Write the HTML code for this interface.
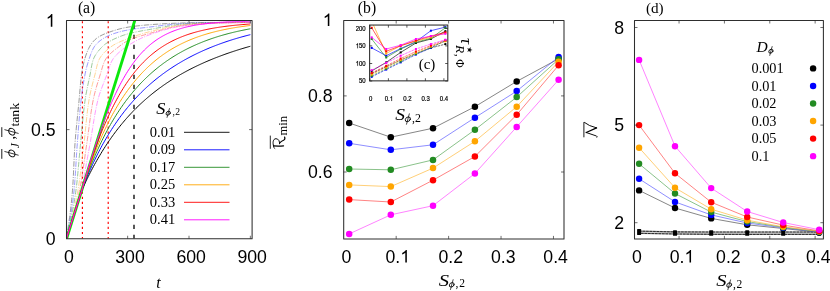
<!DOCTYPE html>
<html><head><meta charset="utf-8"><title>figure</title>
<style>
html,body{margin:0;padding:0;background:#fff;}
body{width:830px;height:291px;overflow:hidden;font-family:"Liberation Sans",sans-serif;}
svg{display:block;will-change:transform;}
text{fill:#000;}
</style></head><body>
<svg width="830" height="291" viewBox="0 0 830 291">
<rect width="830" height="291" fill="#fff"/>
<g id="pa">
<clipPath id="ca"><rect x="66.5" y="20.5" width="185.6" height="218.25"/></clipPath>
<g clip-path="url(#ca)">
<line x1="82.4" y1="20.5" x2="82.4" y2="238.75" stroke="#ff0000" stroke-width="1.15" stroke-dasharray="2.1 2.916" stroke-dashoffset="4.3"/>
<line x1="108.2" y1="20.5" x2="108.2" y2="238.75" stroke="#ff0000" stroke-width="1.15" stroke-dasharray="2.1 2.916" stroke-dashoffset="4.3"/>
<line x1="134" y1="20.5" x2="134" y2="238.75" stroke="#3a3a3a" stroke-width="1.7" stroke-dasharray="4.2 5.8" stroke-dashoffset="5.8"/>
<path d="M66.3 239 L66.59 237.21 L66.89 235.41 L67.17 233.62 L67.46 231.82 L67.74 230.02 L68.01 228.23 L68.28 226.43 L68.55 224.63 L68.81 222.83 L69.07 221.04 L69.32 219.24 L69.57 217.44 L69.81 215.64 L70.04 213.84 L70.27 212.04 L70.49 210.24 L70.71 208.43 L70.92 206.63 L71.12 204.83 L71.31 203.03 L71.5 201.22 L71.68 199.42 L71.86 197.62 L72.02 195.81 L72.18 194.01 L72.33 192.2 L72.47 190.39 L72.6 188.59 L72.73 186.78 L72.85 184.97 L72.96 183.16 L73.06 181.35 L73.16 179.54 L73.26 177.73 L73.35 175.92 L73.44 174.1 L73.52 172.29 L73.6 170.48 L73.69 168.66 L73.77 166.85 L73.85 165.03 L73.93 163.22 L74.01 161.41 L74.09 159.59 L74.18 157.78 L74.27 155.96 L74.36 154.15 L74.46 152.34 L74.56 150.53 L74.66 148.72 L74.77 146.9 L74.89 145.09 L75.02 143.29 L75.15 141.48 L75.29 139.67 L75.44 137.86 L75.59 136.05 L75.74 134.24 L75.9 132.44 L76.07 130.63 L76.24 128.82 L76.41 127.02 L76.58 125.21 L76.76 123.4 L76.94 121.6 L77.12 119.79 L77.3 117.99 L77.48 116.18 L77.67 114.37 L77.85 112.57 L78.04 110.76 L78.22 108.96 L78.4 107.15 L78.58 105.34 L78.76 103.54 L78.93 101.73 L79.11 99.93 L79.27 98.12 L79.43 96.31 L79.59 94.5 L79.74 92.69 L79.89 90.88 L80.04 89.06 L80.19 87.25 L80.35 85.44 L80.52 83.63 L80.69 81.83 L80.88 80.02 L81.07 78.22 L81.29 76.43 L81.51 74.63 L81.77 72.84 L82.05 71.05 L82.37 69.26 L82.72 67.47 L83.1 65.68 L83.5 63.91 L83.93 62.15 L84.39 60.4 L84.88 58.66 L85.4 56.91 L85.98 55.16 L86.6 53.41 L87.26 51.69 L87.98 50.01 L88.74 48.37 L89.55 46.79 L90.43 45.28 L91.45 43.77 L92.58 42.29 L93.82 40.87 L95.13 39.56 L96.48 38.4 L97.88 37.39 L99.38 36.45 L100.98 35.58 L102.65 34.78 L104.35 34.03 L106.07 33.33 L107.78 32.69 L109.47 32.08 L111.18 31.49 L112.9 30.92 L114.64 30.37 L116.39 29.84 L118.15 29.34 L119.91 28.87 L121.68 28.43 L123.46 28.03 L125.24 27.66 L127.02 27.33 L128.79 27.04 L130.58 26.77 L132.37 26.52 L134.17 26.28 L135.97 26.05 L137.77 25.84 L139.58 25.64 L141.39 25.45 L143.2 25.28 L145.02 25.11 L146.83 24.95 L148.64 24.81 L150.45 24.67 L152.26 24.53 L154.06 24.4 L155.87 24.28 L157.68 24.16 L159.5 24.04 L161.31 23.93 L163.12 23.82 L164.93 23.72 L166.74 23.62 L168.56 23.53 L170.37 23.44 L172.18 23.35 L174 23.28 L175.81 23.2 L177.62 23.13 L179.44 23.07 L181.25 23.01 L183.06 22.95 L184.88 22.89 L186.69 22.84 L188.51 22.79 L190.32 22.74 L192.13 22.7 L193.95 22.66 L195.76 22.63 L197.58 22.6 L199.39 22.58 L201.21 22.56 L203.02 22.54 L204.83 22.53 L206.65 22.51 L208.46 22.5 L210.28 22.48 L212.09 22.47 L213.91 22.46 L215.72 22.45 L217.54 22.43 L219.35 22.42 L221.17 22.41 L222.98 22.41 L224.8 22.4 L226.61 22.39 L228.42 22.38 L230.24 22.37 L232.05 22.36 L233.87 22.35 L235.68 22.35 L237.5 22.34 L239.31 22.33 L241.13 22.32 L242.94 22.32 L244.76 22.31 L246.57 22.31 L248.39 22.3 L250.2 22.3" fill="none" stroke="#555555" stroke-width="0.6" stroke-dasharray="5.5 1.3 1 1.3"/>
<path d="M66.3 239 L66.66 237.24 L67.02 235.48 L67.37 233.73 L67.72 231.97 L68.07 230.21 L68.41 228.44 L68.74 226.68 L69.07 224.92 L69.39 223.16 L69.71 221.39 L70.02 219.63 L70.32 217.86 L70.62 216.1 L70.91 214.33 L71.19 212.57 L71.47 210.8 L71.74 209.03 L72 207.26 L72.26 205.49 L72.5 203.72 L72.74 201.95 L72.97 200.18 L73.19 198.4 L73.4 196.63 L73.6 194.86 L73.79 193.08 L73.97 191.31 L74.14 189.53 L74.31 187.76 L74.46 185.98 L74.61 184.2 L74.75 182.42 L74.89 180.64 L75.02 178.85 L75.15 177.07 L75.27 175.29 L75.38 173.5 L75.5 171.71 L75.61 169.93 L75.72 168.14 L75.82 166.35 L75.93 164.57 L76.04 162.78 L76.14 160.99 L76.25 159.2 L76.36 157.42 L76.47 155.63 L76.58 153.84 L76.7 152.06 L76.82 150.27 L76.94 148.49 L77.07 146.7 L77.21 144.92 L77.34 143.13 L77.48 141.35 L77.61 139.56 L77.75 137.78 L77.88 136 L78.02 134.21 L78.16 132.43 L78.29 130.64 L78.43 128.86 L78.57 127.07 L78.72 125.29 L78.86 123.5 L79.01 121.72 L79.16 119.94 L79.31 118.15 L79.46 116.37 L79.62 114.59 L79.79 112.81 L79.95 111.03 L80.13 109.25 L80.3 107.47 L80.48 105.69 L80.67 103.91 L80.86 102.14 L81.06 100.36 L81.26 98.59 L81.48 96.81 L81.7 95.04 L81.93 93.26 L82.17 91.48 L82.42 89.71 L82.68 87.94 L82.95 86.16 L83.23 84.39 L83.52 82.63 L83.82 80.86 L84.13 79.1 L84.45 77.34 L84.79 75.59 L85.13 73.84 L85.5 72.09 L85.89 70.35 L86.32 68.6 L86.76 66.86 L87.24 65.13 L87.73 63.41 L88.25 61.7 L88.8 60.01 L89.36 58.3 L89.95 56.55 L90.56 54.79 L91.21 53.05 L91.91 51.34 L92.65 49.7 L93.46 48.14 L94.32 46.7 L95.27 45.37 L96.37 44.09 L97.62 42.83 L98.98 41.62 L100.45 40.46 L101.98 39.36 L103.56 38.34 L105.16 37.39 L106.76 36.54 L108.33 35.79 L109.91 35.1 L111.54 34.46 L113.2 33.84 L114.9 33.26 L116.62 32.72 L118.37 32.2 L120.13 31.72 L121.89 31.27 L123.66 30.86 L125.43 30.47 L127.19 30.12 L128.93 29.79 L130.68 29.49 L132.44 29.21 L134.21 28.95 L135.98 28.7 L137.76 28.46 L139.54 28.24 L141.32 28.02 L143.1 27.81 L144.88 27.6 L146.67 27.39 L148.45 27.19 L150.22 26.97 L152 26.76 L153.77 26.54 L155.55 26.32 L157.33 26.1 L159.1 25.88 L160.88 25.67 L162.66 25.46 L164.44 25.25 L166.21 25.05 L167.99 24.85 L169.77 24.67 L171.55 24.49 L173.33 24.32 L175.11 24.17 L176.89 24.02 L178.68 23.89 L180.46 23.77 L182.24 23.65 L184.03 23.54 L185.82 23.43 L187.6 23.33 L189.39 23.23 L191.18 23.14 L192.96 23.06 L194.75 22.99 L196.54 22.93 L198.33 22.89 L200.12 22.85 L201.9 22.81 L203.69 22.77 L205.48 22.74 L207.27 22.71 L209.06 22.68 L210.85 22.65 L212.64 22.63 L214.42 22.61 L216.21 22.58 L218 22.56 L219.79 22.54 L221.58 22.52 L223.37 22.51 L225.16 22.49 L226.95 22.47 L228.73 22.45 L230.52 22.44 L232.31 22.42 L234.1 22.4 L235.89 22.39 L237.68 22.37 L239.47 22.36 L241.26 22.35 L243.04 22.34 L244.83 22.33 L246.62 22.32 L248.41 22.31 L250.2 22.3" fill="none" stroke="#5555ff" stroke-width="0.6" stroke-dasharray="5.5 1.3 1 1.3"/>
<path d="M66.3 239 L66.73 237.29 L67.15 235.58 L67.57 233.87 L67.98 232.16 L68.39 230.44 L68.79 228.73 L69.19 227.01 L69.58 225.3 L69.97 223.58 L70.35 221.86 L70.72 220.14 L71.08 218.42 L71.44 216.7 L71.8 214.98 L72.14 213.26 L72.48 211.53 L72.81 209.81 L73.13 208.08 L73.45 206.36 L73.75 204.63 L74.05 202.9 L74.34 201.17 L74.62 199.44 L74.9 197.71 L75.16 195.98 L75.42 194.25 L75.66 192.52 L75.9 190.78 L76.12 189.05 L76.34 187.31 L76.55 185.57 L76.75 183.83 L76.94 182.09 L77.13 180.35 L77.31 178.6 L77.49 176.86 L77.66 175.11 L77.83 173.36 L77.99 171.61 L78.15 169.86 L78.31 168.11 L78.47 166.36 L78.62 164.61 L78.77 162.86 L78.92 161.11 L79.08 159.36 L79.23 157.6 L79.38 155.85 L79.54 154.1 L79.7 152.35 L79.86 150.6 L80.02 148.85 L80.19 147.1 L80.36 145.36 L80.54 143.61 L80.71 141.86 L80.88 140.11 L81.05 138.36 L81.21 136.61 L81.37 134.86 L81.54 133.11 L81.7 131.36 L81.86 129.61 L82.02 127.86 L82.19 126.11 L82.35 124.36 L82.52 122.61 L82.69 120.86 L82.86 119.12 L83.04 117.37 L83.22 115.62 L83.4 113.88 L83.59 112.13 L83.79 110.39 L83.99 108.65 L84.2 106.9 L84.41 105.16 L84.64 103.43 L84.87 101.69 L85.11 99.96 L85.36 98.22 L85.64 96.49 L85.93 94.77 L86.25 93.04 L86.58 91.32 L86.92 89.59 L87.27 87.87 L87.63 86.15 L87.99 84.43 L88.36 82.71 L88.73 80.99 L89.1 79.27 L89.46 77.55 L89.82 75.83 L90.18 74.11 L90.51 72.38 L90.82 70.62 L91.12 68.85 L91.43 67.09 L91.76 65.34 L92.12 63.62 L92.52 61.95 L92.99 60.33 L93.56 58.76 L94.27 57.2 L95.11 55.66 L96.06 54.15 L97.11 52.66 L98.22 51.21 L99.39 49.81 L100.59 48.47 L101.81 47.19 L103.03 45.97 L104.32 44.82 L105.74 43.74 L107.22 42.75 L108.71 41.87 L110.23 41.03 L111.78 40.22 L113.35 39.43 L114.95 38.67 L116.56 37.94 L118.2 37.24 L119.85 36.57 L121.5 35.94 L123.17 35.34 L124.84 34.79 L126.51 34.27 L128.18 33.8 L129.86 33.35 L131.55 32.94 L133.25 32.55 L134.97 32.18 L136.69 31.82 L138.42 31.49 L140.15 31.16 L141.89 30.84 L143.63 30.53 L145.36 30.23 L147.1 29.92 L148.83 29.61 L150.56 29.3 L152.29 28.98 L154.02 28.65 L155.74 28.33 L157.47 28 L159.2 27.68 L160.93 27.36 L162.66 27.04 L164.39 26.73 L166.12 26.43 L167.86 26.14 L169.59 25.87 L171.32 25.6 L173.06 25.36 L174.8 25.13 L176.54 24.92 L178.28 24.73 L180.02 24.56 L181.77 24.4 L183.52 24.24 L185.27 24.09 L187.02 23.95 L188.77 23.82 L190.52 23.69 L192.28 23.58 L194.03 23.48 L195.79 23.39 L197.54 23.31 L199.29 23.24 L201.05 23.17 L202.8 23.11 L204.56 23.05 L206.31 22.99 L208.07 22.94 L209.82 22.89 L211.58 22.84 L213.33 22.8 L215.09 22.75 L216.84 22.72 L218.6 22.68 L220.35 22.65 L222.11 22.62 L223.87 22.6 L225.62 22.58 L227.38 22.56 L229.13 22.54 L230.89 22.52 L232.64 22.5 L234.4 22.49 L236.15 22.47 L237.91 22.45 L239.67 22.44 L241.42 22.43 L243.18 22.42 L244.93 22.41 L246.69 22.4 L248.44 22.4 L250.2 22.4" fill="none" stroke="#55a555" stroke-width="0.6" stroke-dasharray="5.5 1.3 1 1.3"/>
<path d="M66.3 239 L66.79 237.34 L67.28 235.68 L67.76 234.02 L68.24 232.35 L68.71 230.69 L69.18 229.02 L69.64 227.35 L70.09 225.68 L70.54 224.02 L70.98 222.34 L71.41 220.67 L71.84 219 L72.26 217.32 L72.68 215.65 L73.08 213.97 L73.48 212.29 L73.87 210.61 L74.26 208.93 L74.64 207.25 L75 205.57 L75.36 203.89 L75.72 202.2 L76.06 200.51 L76.4 198.83 L76.72 197.14 L77.04 195.45 L77.35 193.76 L77.65 192.07 L77.94 190.38 L78.22 188.68 L78.49 186.98 L78.75 185.29 L79.01 183.59 L79.26 181.88 L79.51 180.18 L79.74 178.47 L79.97 176.77 L80.2 175.06 L80.42 173.35 L80.64 171.64 L80.85 169.92 L81.07 168.21 L81.27 166.5 L81.48 164.78 L81.68 163.07 L81.88 161.35 L82.08 159.64 L82.28 157.92 L82.48 156.21 L82.68 154.49 L82.88 152.78 L83.08 151.06 L83.28 149.35 L83.48 147.64 L83.69 145.92 L83.9 144.21 L84.1 142.5 L84.29 140.79 L84.48 139.07 L84.67 137.35 L84.85 135.64 L85.03 133.92 L85.21 132.2 L85.38 130.48 L85.55 128.76 L85.73 127.04 L85.9 125.33 L86.07 123.61 L86.25 121.89 L86.43 120.17 L86.61 118.46 L86.8 116.74 L86.99 115.03 L87.19 113.32 L87.39 111.61 L87.6 109.9 L87.82 108.19 L88.05 106.48 L88.28 104.78 L88.53 103.08 L88.78 101.38 L89.05 99.69 L89.34 98 L89.65 96.31 L89.99 94.62 L90.35 92.94 L90.73 91.25 L91.12 89.57 L91.52 87.9 L91.94 86.22 L92.36 84.54 L92.8 82.87 L93.23 81.2 L93.67 79.53 L94.11 77.85 L94.54 76.18 L94.97 74.51 L95.39 72.83 L95.78 71.12 L96.17 69.38 L96.56 67.64 L96.98 65.93 L97.42 64.25 L97.91 62.62 L98.46 61.07 L99.08 59.6 L99.85 58.17 L100.75 56.75 L101.78 55.35 L102.91 53.99 L104.13 52.66 L105.41 51.38 L106.75 50.15 L108.13 48.98 L109.51 47.87 L110.9 46.84 L112.26 45.89 L113.65 45.01 L115.12 44.17 L116.63 43.38 L118.19 42.62 L119.79 41.9 L121.41 41.21 L123.04 40.55 L124.68 39.9 L126.31 39.27 L127.92 38.65 L129.52 38.05 L131.14 37.45 L132.76 36.87 L134.39 36.3 L136.02 35.74 L137.66 35.2 L139.31 34.67 L140.96 34.16 L142.62 33.66 L144.27 33.17 L145.93 32.7 L147.6 32.24 L149.26 31.79 L150.92 31.36 L152.59 30.93 L154.26 30.51 L155.93 30.08 L157.61 29.66 L159.29 29.25 L160.97 28.85 L162.65 28.45 L164.34 28.07 L166.03 27.7 L167.72 27.34 L169.41 27 L171.11 26.68 L172.81 26.38 L174.5 26.09 L176.2 25.83 L177.9 25.59 L179.61 25.37 L181.31 25.16 L183.02 24.96 L184.74 24.77 L186.45 24.59 L188.17 24.42 L189.89 24.26 L191.61 24.11 L193.34 23.98 L195.06 23.86 L196.78 23.76 L198.5 23.66 L200.22 23.58 L201.94 23.5 L203.66 23.42 L205.38 23.35 L207.11 23.29 L208.83 23.22 L210.55 23.16 L212.28 23.11 L214 23.05 L215.72 23 L217.45 22.96 L219.17 22.91 L220.9 22.87 L222.62 22.83 L224.34 22.79 L226.07 22.76 L227.79 22.72 L229.51 22.69 L231.24 22.65 L232.96 22.62 L234.68 22.59 L236.41 22.56 L238.13 22.53 L239.86 22.51 L241.58 22.48 L243.3 22.46 L245.03 22.44 L246.75 22.43 L248.48 22.41 L250.2 22.4" fill="none" stroke="#ffb84d" stroke-width="0.6" stroke-dasharray="5.5 1.3 1 1.3"/>
<path d="M66.3 239 L66.84 237.38 L67.37 235.76 L67.9 234.14 L68.43 232.51 L68.94 230.89 L69.45 229.26 L69.96 227.63 L70.46 226 L70.95 224.37 L71.44 222.74 L71.92 221.11 L72.39 219.47 L72.86 217.84 L73.32 216.2 L73.78 214.56 L74.22 212.92 L74.66 211.28 L75.09 209.64 L75.52 207.99 L75.93 206.35 L76.34 204.7 L76.74 203.05 L77.13 201.4 L77.52 199.75 L77.89 198.1 L78.26 196.45 L78.62 194.79 L78.96 193.13 L79.3 191.48 L79.64 189.82 L79.96 188.16 L80.27 186.49 L80.58 184.83 L80.87 183.16 L81.16 181.49 L81.45 179.82 L81.72 178.14 L81.99 176.47 L82.26 174.79 L82.52 173.11 L82.77 171.43 L83.03 169.75 L83.27 168.07 L83.52 166.38 L83.76 164.7 L84.01 163.02 L84.25 161.33 L84.48 159.65 L84.72 157.96 L84.96 156.28 L85.2 154.59 L85.44 152.91 L85.68 151.22 L85.93 149.54 L86.17 147.86 L86.42 146.18 L86.68 144.5 L86.92 142.82 L87.17 141.13 L87.4 139.45 L87.63 137.76 L87.86 136.08 L88.09 134.39 L88.31 132.7 L88.53 131.01 L88.75 129.33 L88.97 127.64 L89.19 125.95 L89.41 124.26 L89.63 122.57 L89.86 120.89 L90.09 119.2 L90.32 117.52 L90.56 115.83 L90.8 114.15 L91.05 112.47 L91.31 110.8 L91.58 109.12 L91.85 107.45 L92.13 105.78 L92.43 104.11 L92.73 102.45 L93.05 100.79 L93.37 99.13 L93.73 97.48 L94.1 95.83 L94.5 94.18 L94.91 92.53 L95.35 90.89 L95.8 89.25 L96.26 87.61 L96.73 85.98 L97.21 84.34 L97.7 82.71 L98.2 81.08 L98.7 79.45 L99.21 77.83 L99.71 76.2 L100.22 74.58 L100.72 72.95 L101.2 71.29 L101.68 69.61 L102.17 67.92 L102.68 66.25 L103.22 64.62 L103.81 63.04 L104.44 61.53 L105.15 60.1 L105.95 58.75 L106.89 57.43 L107.94 56.16 L109.08 54.92 L110.31 53.71 L111.6 52.53 L112.94 51.38 L114.32 50.25 L115.71 49.15 L117.1 48.07 L118.48 47.02 L119.83 45.98 L121.17 44.95 L122.55 43.92 L123.96 42.94 L125.4 42.01 L126.86 41.17 L128.35 40.44 L129.87 39.76 L131.42 39.12 L132.99 38.52 L134.59 37.94 L136.2 37.38 L137.82 36.85 L139.46 36.34 L141.1 35.85 L142.75 35.37 L144.4 34.89 L146.05 34.42 L147.7 33.96 L149.34 33.49 L150.97 33.02 L152.6 32.54 L154.23 32.06 L155.86 31.58 L157.5 31.1 L159.14 30.62 L160.78 30.15 L162.42 29.69 L164.07 29.24 L165.71 28.8 L167.36 28.38 L169.02 27.97 L170.67 27.59 L172.33 27.22 L173.99 26.89 L175.65 26.58 L177.32 26.29 L178.99 26.04 L180.66 25.81 L182.34 25.59 L184.02 25.38 L185.71 25.18 L187.4 25 L189.1 24.82 L190.79 24.66 L192.49 24.5 L194.18 24.36 L195.88 24.23 L197.57 24.11 L199.27 24.01 L200.96 23.9 L202.66 23.8 L204.35 23.7 L206.05 23.61 L207.74 23.52 L209.44 23.43 L211.14 23.35 L212.84 23.27 L214.54 23.2 L216.23 23.14 L217.93 23.08 L219.63 23.02 L221.33 22.97 L223.03 22.92 L224.72 22.88 L226.42 22.84 L228.12 22.81 L229.82 22.77 L231.51 22.73 L233.21 22.7 L234.91 22.66 L236.61 22.63 L238.31 22.6 L240.01 22.58 L241.71 22.56 L243.4 22.54 L245.1 22.52 L246.8 22.51 L248.5 22.5 L250.2 22.5" fill="none" stroke="#ff5555" stroke-width="0.6" stroke-dasharray="5.5 1.3 1 1.3"/>
<path d="M66.3 239 L66.87 237.42 L67.43 235.84 L67.99 234.26 L68.54 232.68 L69.09 231.09 L69.63 229.5 L70.17 227.92 L70.7 226.33 L71.23 224.74 L71.75 223.15 L72.27 221.55 L72.78 219.96 L73.28 218.36 L73.78 216.76 L74.27 215.17 L74.76 213.57 L75.24 211.96 L75.71 210.36 L76.18 208.76 L76.64 207.15 L77.09 205.54 L77.54 203.94 L77.98 202.33 L78.41 200.71 L78.83 199.1 L79.25 197.49 L79.67 195.87 L80.07 194.26 L80.47 192.64 L80.86 191.02 L81.24 189.4 L81.61 187.78 L81.98 186.15 L82.34 184.52 L82.69 182.89 L83.04 181.26 L83.37 179.63 L83.71 177.99 L84.03 176.35 L84.36 174.71 L84.67 173.07 L84.99 171.43 L85.3 169.79 L85.6 168.14 L85.91 166.5 L86.21 164.85 L86.51 163.2 L86.8 161.56 L87.1 159.91 L87.4 158.26 L87.69 156.61 L87.99 154.97 L88.28 153.32 L88.58 151.67 L88.88 150.03 L89.18 148.38 L89.48 146.74 L89.78 145.09 L90.09 143.45 L90.38 141.8 L90.67 140.15 L90.95 138.5 L91.22 136.85 L91.49 135.19 L91.76 133.54 L92.03 131.88 L92.29 130.22 L92.55 128.57 L92.82 126.91 L93.08 125.25 L93.34 123.6 L93.61 121.94 L93.88 120.29 L94.16 118.64 L94.44 116.99 L94.73 115.34 L95.02 113.69 L95.32 112.05 L95.63 110.41 L95.95 108.78 L96.29 107.15 L96.63 105.52 L96.98 103.9 L97.35 102.28 L97.74 100.67 L98.14 99.07 L98.57 97.47 L99.04 95.87 L99.53 94.28 L100.05 92.7 L100.6 91.12 L101.16 89.55 L101.74 87.97 L102.33 86.4 L102.93 84.84 L103.54 83.27 L104.15 81.7 L104.76 80.14 L105.37 78.58 L105.97 77.01 L106.56 75.44 L107.14 73.88 L107.7 72.28 L108.24 70.66 L108.77 69.02 L109.3 67.38 L109.85 65.76 L110.43 64.18 L111.06 62.66 L111.74 61.21 L112.5 59.84 L113.35 58.53 L114.32 57.25 L115.39 55.99 L116.54 54.77 L117.76 53.57 L119.04 52.41 L120.36 51.28 L121.72 50.19 L123.1 49.13 L124.49 48.11 L125.87 47.13 L127.23 46.19 L128.58 45.28 L129.96 44.38 L131.37 43.51 L132.8 42.66 L134.26 41.82 L135.74 41.01 L137.23 40.22 L138.74 39.45 L140.27 38.7 L141.8 37.98 L143.34 37.29 L144.89 36.61 L146.44 35.97 L147.99 35.36 L149.54 34.77 L151.09 34.2 L152.65 33.65 L154.22 33.1 L155.8 32.56 L157.39 32.03 L158.99 31.52 L160.59 31.02 L162.2 30.53 L163.82 30.05 L165.44 29.6 L167.07 29.16 L168.7 28.74 L170.33 28.34 L171.97 27.97 L173.6 27.62 L175.24 27.29 L176.88 26.99 L178.52 26.71 L180.16 26.46 L181.8 26.22 L183.46 25.99 L185.11 25.78 L186.77 25.57 L188.44 25.38 L190.11 25.2 L191.77 25.03 L193.44 24.87 L195.11 24.72 L196.78 24.58 L198.44 24.45 L200.11 24.32 L201.77 24.2 L203.44 24.08 L205.1 23.96 L206.77 23.85 L208.44 23.74 L210.11 23.64 L211.78 23.54 L213.45 23.44 L215.12 23.36 L216.79 23.28 L218.46 23.2 L220.13 23.13 L221.8 23.07 L223.47 23.02 L225.14 22.97 L226.81 22.92 L228.48 22.87 L230.15 22.83 L231.82 22.78 L233.49 22.74 L235.16 22.7 L236.83 22.66 L238.5 22.63 L240.17 22.6 L241.84 22.57 L243.51 22.54 L245.18 22.53 L246.86 22.51 L248.53 22.5 L250.2 22.5" fill="none" stroke="#ff55ff" stroke-width="0.6" stroke-dasharray="5.5 1.3 1 1.3"/>
<line x1="66.5" y1="239.0" x2="134.95" y2="20" stroke="#0ce80c" stroke-width="2.85"/>
<path d="M66.3 238.75 L81.9 190 L82.96 187.66 L84.02 185.36 L85.08 183.1 L86.14 180.88 L87.2 178.7 L88.26 176.56 L89.32 174.45 L90.38 172.37 L91.43 170.33 L92.49 168.32 L93.55 166.35 L94.61 164.41 L95.67 162.5 L96.73 160.63 L97.79 158.78 L98.85 156.96 L99.91 155.18 L100.97 153.42 L102.03 151.69 L103.09 149.98 L104.15 148.31 L105.21 146.66 L106.27 145.04 L107.33 143.44 L108.39 141.87 L109.45 140.32 L110.5 138.8 L111.56 137.3 L112.62 135.82 L113.68 134.37 L114.74 132.94 L115.8 131.53 L116.86 130.14 L117.92 128.77 L118.98 127.43 L120.04 126.1 L121.1 124.79 L122.16 123.51 L123.22 122.24 L124.28 120.99 L125.34 119.76 L126.4 118.55 L127.46 117.35 L128.52 116.18 L129.57 115.02 L130.63 113.87 L131.69 112.75 L132.75 111.64 L133.81 110.54 L134.87 109.46 L135.93 108.4 L136.99 107.35 L138.05 106.32 L139.11 105.3 L140.17 104.29 L141.23 103.3 L142.29 102.33 L143.35 101.36 L144.41 100.41 L145.47 99.47 L146.53 98.55 L147.58 97.64 L148.64 96.74 L149.7 95.85 L150.76 94.97 L151.82 94.11 L152.88 93.26 L153.94 92.42 L155 91.59 L156.06 90.77 L157.12 89.96 L158.18 89.16 L159.24 88.37 L160.3 87.6 L161.36 86.83 L162.42 86.07 L163.48 85.32 L164.54 84.59 L165.6 83.86 L166.65 83.14 L167.71 82.43 L168.77 81.73 L169.83 81.03 L170.89 80.35 L171.95 79.67 L173.01 79.01 L174.07 78.35 L175.13 77.7 L176.19 77.06 L177.25 76.42 L178.31 75.79 L179.37 75.17 L180.43 74.56 L181.49 73.96 L182.55 73.36 L183.61 72.77 L184.67 72.19 L185.72 71.61 L186.78 71.04 L187.84 70.48 L188.9 69.92 L189.96 69.37 L191.02 68.83 L192.08 68.29 L193.14 67.76 L194.2 67.23 L195.26 66.72 L196.32 66.2 L197.38 65.7 L198.44 65.19 L199.5 64.7 L200.56 64.21 L201.62 63.72 L202.68 63.25 L203.73 62.77 L204.79 62.3 L205.85 61.84 L206.91 61.38 L207.97 60.93 L209.03 60.48 L210.09 60.04 L211.15 59.6 L212.21 59.16 L213.27 58.74 L214.33 58.31 L215.39 57.89 L216.45 57.48 L217.51 57.07 L218.57 56.66 L219.63 56.26 L220.69 55.86 L221.75 55.47 L222.8 55.08 L223.86 54.69 L224.92 54.31 L225.98 53.93 L227.04 53.56 L228.1 53.19 L229.16 52.82 L230.22 52.46 L231.28 52.1 L232.34 51.75 L233.4 51.4 L234.46 51.05 L235.52 50.71 L236.58 50.37 L237.64 50.03 L238.7 49.7 L239.76 49.37 L240.82 49.04 L241.87 48.72 L242.93 48.4 L243.99 48.08 L245.05 47.77 L246.11 47.46 L247.17 47.15 L248.23 46.85 L249.29 46.55 L250.35 46.25" fill="none" stroke="#000000" stroke-width="0.98" stroke-linejoin="round"/>
<path d="M66.3 238.75 L81.9 190 L82.96 187.24 L84.02 184.53 L85.08 181.88 L86.14 179.27 L87.2 176.72 L88.26 174.22 L89.32 171.77 L90.38 169.36 L91.43 167 L92.49 164.68 L93.55 162.41 L94.61 160.18 L95.67 157.99 L96.73 155.84 L97.79 153.73 L98.85 151.66 L99.91 149.63 L100.97 147.63 L102.03 145.67 L103.09 143.75 L104.15 141.86 L105.21 140 L106.27 138.18 L107.33 136.39 L108.39 134.63 L109.45 132.9 L110.5 131.21 L111.56 129.54 L112.62 127.9 L113.68 126.28 L114.74 124.7 L115.8 123.14 L116.86 121.61 L117.92 120.1 L118.98 118.62 L120.04 117.17 L121.1 115.74 L122.16 114.33 L123.22 112.94 L124.28 111.58 L125.34 110.24 L126.4 108.92 L127.46 107.62 L128.52 106.35 L129.57 105.09 L130.63 103.85 L131.69 102.63 L132.75 101.44 L133.81 100.26 L134.87 99.09 L135.93 97.95 L136.99 96.83 L138.05 95.72 L139.11 94.63 L140.17 93.55 L141.23 92.49 L142.29 91.45 L143.35 90.42 L144.41 89.41 L145.47 88.41 L146.53 87.43 L147.58 86.46 L148.64 85.51 L149.7 84.57 L150.76 83.64 L151.82 82.73 L152.88 81.83 L153.94 80.94 L155 80.07 L156.06 79.21 L157.12 78.36 L158.18 77.52 L159.24 76.69 L160.3 75.88 L161.36 75.08 L162.42 74.28 L163.48 73.5 L164.54 72.73 L165.6 71.97 L166.65 71.23 L167.71 70.49 L168.77 69.76 L169.83 69.04 L170.89 68.33 L171.95 67.63 L173.01 66.94 L174.07 66.26 L175.13 65.59 L176.19 64.92 L177.25 64.27 L178.31 63.62 L179.37 62.99 L180.43 62.36 L181.49 61.74 L182.55 61.13 L183.61 60.52 L184.67 59.92 L185.72 59.34 L186.78 58.76 L187.84 58.18 L188.9 57.62 L189.96 57.06 L191.02 56.51 L192.08 55.96 L193.14 55.42 L194.2 54.89 L195.26 54.37 L196.32 53.85 L197.38 53.34 L198.44 52.84 L199.5 52.34 L200.56 51.85 L201.62 51.36 L202.68 50.89 L203.73 50.41 L204.79 49.95 L205.85 49.49 L206.91 49.03 L207.97 48.58 L209.03 48.14 L210.09 47.7 L211.15 47.27 L212.21 46.84 L213.27 46.42 L214.33 46.01 L215.39 45.6 L216.45 45.19 L217.51 44.79 L218.57 44.4 L219.63 44.01 L220.69 43.62 L221.75 43.24 L222.8 42.87 L223.86 42.5 L224.92 42.13 L225.98 41.77 L227.04 41.41 L228.1 41.06 L229.16 40.72 L230.22 40.37 L231.28 40.04 L232.34 39.7 L233.4 39.37 L234.46 39.05 L235.52 38.73 L236.58 38.41 L237.64 38.1 L238.7 37.79 L239.76 37.49 L240.82 37.19 L241.87 36.89 L242.93 36.6 L243.99 36.31 L245.05 36.03 L246.11 35.75 L247.17 35.47 L248.23 35.2 L249.29 34.93 L250.35 34.67" fill="none" stroke="#0000ff" stroke-width="0.98" stroke-linejoin="round"/>
<path d="M66.3 238.75 L81.9 190 L82.96 186.9 L84.02 183.86 L85.08 180.88 L86.14 177.96 L87.2 175.1 L88.26 172.3 L89.32 169.55 L90.38 166.86 L91.43 164.22 L92.49 161.63 L93.55 159.09 L94.61 156.61 L95.67 154.17 L96.73 151.77 L97.79 149.43 L98.85 147.13 L99.91 144.87 L100.97 142.66 L102.03 140.48 L103.09 138.35 L104.15 136.26 L105.21 134.21 L106.27 132.2 L107.33 130.22 L108.39 128.29 L109.45 126.38 L110.5 124.52 L111.56 122.68 L112.62 120.89 L113.68 119.12 L114.74 117.39 L115.8 115.69 L116.86 114.01 L117.92 112.37 L118.98 110.76 L120.04 109.18 L121.1 107.63 L122.16 106.1 L123.22 104.6 L124.28 103.13 L125.34 101.69 L126.4 100.27 L127.46 98.87 L128.52 97.5 L129.57 96.15 L130.63 94.83 L131.69 93.53 L132.75 92.25 L133.81 91 L134.87 89.77 L135.93 88.55 L136.99 87.36 L138.05 86.19 L139.11 85.04 L140.17 83.91 L141.23 82.8 L142.29 81.71 L143.35 80.63 L144.41 79.58 L145.47 78.54 L146.53 77.52 L147.58 76.52 L148.64 75.53 L149.7 74.56 L150.76 73.61 L151.82 72.67 L152.88 71.75 L153.94 70.84 L155 69.95 L156.06 69.08 L157.12 68.22 L158.18 67.37 L159.24 66.53 L160.3 65.71 L161.36 64.91 L162.42 64.12 L163.48 63.34 L164.54 62.57 L165.6 61.82 L166.65 61.07 L167.71 60.34 L168.77 59.63 L169.83 58.92 L170.89 58.23 L171.95 57.54 L173.01 56.87 L174.07 56.21 L175.13 55.56 L176.19 54.92 L177.25 54.29 L178.31 53.68 L179.37 53.07 L180.43 52.47 L181.49 51.88 L182.55 51.3 L183.61 50.73 L184.67 50.17 L185.72 49.62 L186.78 49.08 L187.84 48.54 L188.9 48.02 L189.96 47.5 L191.02 47 L192.08 46.5 L193.14 46.01 L194.2 45.52 L195.26 45.05 L196.32 44.58 L197.38 44.12 L198.44 43.67 L199.5 43.22 L200.56 42.79 L201.62 42.36 L202.68 41.93 L203.73 41.52 L204.79 41.11 L205.85 40.71 L206.91 40.31 L207.97 39.92 L209.03 39.54 L210.09 39.16 L211.15 38.79 L212.21 38.43 L213.27 38.07 L214.33 37.72 L215.39 37.38 L216.45 37.04 L217.51 36.7 L218.57 36.37 L219.63 36.05 L220.69 35.73 L221.75 35.42 L222.8 35.11 L223.86 34.81 L224.92 34.52 L225.98 34.23 L227.04 33.94 L228.1 33.66 L229.16 33.38 L230.22 33.11 L231.28 32.85 L232.34 32.58 L233.4 32.33 L234.46 32.08 L235.52 31.83 L236.58 31.58 L237.64 31.34 L238.7 31.11 L239.76 30.88 L240.82 30.65 L241.87 30.43 L242.93 30.21 L243.99 30 L245.05 29.79 L246.11 29.58 L247.17 29.38 L248.23 29.18 L249.29 28.98 L250.35 28.79" fill="none" stroke="#228b22" stroke-width="0.98" stroke-linejoin="round"/>
<path d="M66.3 238.75 L81.9 190 L82.96 186.62 L84.02 183.3 L85.08 180.04 L86.14 176.85 L87.2 173.72 L88.26 170.65 L89.32 167.64 L90.38 164.69 L91.43 161.79 L92.49 158.96 L93.55 156.17 L94.61 153.44 L95.67 150.76 L96.73 148.14 L97.79 145.56 L98.85 143.04 L99.91 140.56 L100.97 138.13 L102.03 135.75 L103.09 133.42 L104.15 131.13 L105.21 128.88 L106.27 126.68 L107.33 124.52 L108.39 122.41 L109.45 120.33 L110.5 118.3 L111.56 116.3 L112.62 114.34 L113.68 112.43 L114.74 110.54 L115.8 108.7 L116.86 106.89 L117.92 105.12 L118.98 103.38 L120.04 101.67 L121.1 100 L122.16 98.36 L123.22 96.76 L124.28 95.18 L125.34 93.64 L126.4 92.13 L127.46 90.64 L128.52 89.19 L129.57 87.76 L130.63 86.36 L131.69 84.99 L132.75 83.65 L133.81 82.33 L134.87 81.04 L135.93 79.77 L136.99 78.53 L138.05 77.32 L139.11 76.12 L140.17 74.95 L141.23 73.81 L142.29 72.69 L143.35 71.59 L144.41 70.51 L145.47 69.45 L146.53 68.41 L147.58 67.4 L148.64 66.4 L149.7 65.43 L150.76 64.47 L151.82 63.54 L152.88 62.62 L153.94 61.72 L155 60.84 L156.06 59.97 L157.12 59.13 L158.18 58.3 L159.24 57.48 L160.3 56.69 L161.36 55.91 L162.42 55.14 L163.48 54.39 L164.54 53.66 L165.6 52.94 L166.65 52.24 L167.71 51.55 L168.77 50.87 L169.83 50.21 L170.89 49.56 L171.95 48.92 L173.01 48.3 L174.07 47.69 L175.13 47.09 L176.19 46.51 L177.25 45.94 L178.31 45.38 L179.37 44.83 L180.43 44.29 L181.49 43.76 L182.55 43.24 L183.61 42.74 L184.67 42.24 L185.72 41.76 L186.78 41.28 L187.84 40.82 L188.9 40.36 L189.96 39.92 L191.02 39.48 L192.08 39.05 L193.14 38.63 L194.2 38.22 L195.26 37.82 L196.32 37.43 L197.38 37.05 L198.44 36.67 L199.5 36.3 L200.56 35.94 L201.62 35.59 L202.68 35.24 L203.73 34.9 L204.79 34.57 L205.85 34.25 L206.91 33.93 L207.97 33.62 L209.03 33.32 L210.09 33.02 L211.15 32.73 L212.21 32.45 L213.27 32.17 L214.33 31.9 L215.39 31.63 L216.45 31.37 L217.51 31.11 L218.57 30.87 L219.63 30.62 L220.69 30.38 L221.75 30.15 L222.8 29.92 L223.86 29.7 L224.92 29.48 L225.98 29.27 L227.04 29.06 L228.1 28.85 L229.16 28.65 L230.22 28.46 L231.28 28.27 L232.34 28.08 L233.4 27.9 L234.46 27.72 L235.52 27.54 L236.58 27.37 L237.64 27.21 L238.7 27.04 L239.76 26.88 L240.82 26.73 L241.87 26.57 L242.93 26.43 L243.99 26.28 L245.05 26.14 L246.11 26 L247.17 25.86 L248.23 25.73 L249.29 25.6 L250.35 25.47" fill="none" stroke="#ffa500" stroke-width="0.98" stroke-linejoin="round"/>
<path d="M66.3 238.75 L81.9 190 L82.96 186.38 L84.02 182.82 L85.08 179.31 L86.14 175.87 L87.2 172.48 L88.26 169.15 L89.32 165.87 L90.38 162.65 L91.43 159.49 L92.49 156.38 L93.55 153.33 L94.61 150.34 L95.67 147.39 L96.73 144.51 L97.79 141.67 L98.85 138.89 L99.91 136.16 L100.97 133.49 L102.03 130.87 L103.09 128.29 L104.15 125.77 L105.21 123.3 L106.27 120.88 L107.33 118.5 L108.39 116.18 L109.45 113.9 L110.5 111.67 L111.56 109.48 L112.62 107.34 L113.68 105.25 L114.74 103.2 L115.8 101.2 L116.86 99.23 L117.92 97.31 L118.98 95.43 L120.04 93.6 L121.1 91.8 L122.16 90.04 L123.22 88.33 L124.28 86.65 L125.34 85.01 L126.4 83.4 L127.46 81.84 L128.52 80.3 L129.57 78.81 L130.63 77.35 L131.69 75.92 L132.75 74.53 L133.81 73.16 L134.87 71.84 L135.93 70.54 L136.99 69.27 L138.05 68.03 L139.11 66.83 L140.17 65.65 L141.23 64.5 L142.29 63.38 L143.35 62.28 L144.41 61.22 L145.47 60.18 L146.53 59.16 L147.58 58.17 L148.64 57.21 L149.7 56.26 L150.76 55.35 L151.82 54.45 L152.88 53.58 L153.94 52.73 L155 51.9 L156.06 51.09 L157.12 50.3 L158.18 49.53 L159.24 48.79 L160.3 48.06 L161.36 47.35 L162.42 46.66 L163.48 45.98 L164.54 45.32 L165.6 44.69 L166.65 44.06 L167.71 43.46 L168.77 42.86 L169.83 42.29 L170.89 41.73 L171.95 41.18 L173.01 40.65 L174.07 40.13 L175.13 39.63 L176.19 39.14 L177.25 38.66 L178.31 38.2 L179.37 37.75 L180.43 37.3 L181.49 36.88 L182.55 36.46 L183.61 36.05 L184.67 35.66 L185.72 35.27 L186.78 34.9 L187.84 34.53 L188.9 34.18 L189.96 33.83 L191.02 33.5 L192.08 33.17 L193.14 32.85 L194.2 32.54 L195.26 32.24 L196.32 31.95 L197.38 31.66 L198.44 31.38 L199.5 31.11 L200.56 30.85 L201.62 30.6 L202.68 30.35 L203.73 30.11 L204.79 29.87 L205.85 29.64 L206.91 29.42 L207.97 29.2 L209.03 28.99 L210.09 28.78 L211.15 28.58 L212.21 28.39 L213.27 28.2 L214.33 28.02 L215.39 27.84 L216.45 27.66 L217.51 27.49 L218.57 27.33 L219.63 27.17 L220.69 27.01 L221.75 26.86 L222.8 26.71 L223.86 26.57 L224.92 26.43 L225.98 26.29 L227.04 26.16 L228.1 26.03 L229.16 25.91 L230.22 25.79 L231.28 25.67 L232.34 25.55 L233.4 25.44 L234.46 25.33 L235.52 25.22 L236.58 25.12 L237.64 25.02 L238.7 24.92 L239.76 24.82 L240.82 24.73 L241.87 24.64 L242.93 24.55 L243.99 24.47 L245.05 24.38 L246.11 24.3 L247.17 24.22 L248.23 24.15 L249.29 24.07 L250.35 24" fill="none" stroke="#ff0000" stroke-width="0.98" stroke-linejoin="round"/>
<path d="M66.3 238.75 L81.9 190 L82.96 186.33 L84.02 182.69 L85.08 179.08 L86.14 175.49 L87.2 171.95 L88.26 168.43 L89.32 164.96 L90.38 161.52 L91.43 158.12 L92.49 154.76 L93.55 151.45 L94.61 148.18 L95.67 144.96 L96.73 141.78 L97.79 138.65 L98.85 135.57 L99.91 132.53 L100.97 129.55 L102.03 126.62 L103.09 123.73 L104.15 120.9 L105.21 118.13 L106.27 115.4 L107.33 112.73 L108.39 110.1 L109.45 107.53 L110.5 105.02 L111.56 102.55 L112.62 100.14 L113.68 97.78 L114.74 95.48 L115.8 93.22 L116.86 91.02 L117.92 88.87 L118.98 86.76 L120.04 84.71 L121.1 82.71 L122.16 80.76 L123.22 78.85 L124.28 77 L125.34 75.19 L126.4 73.43 L127.46 71.72 L128.52 70.05 L129.57 68.43 L130.63 66.85 L131.69 65.31 L132.75 63.82 L133.81 62.37 L134.87 60.96 L135.93 59.59 L136.99 58.26 L138.05 56.97 L139.11 55.72 L140.17 54.5 L141.23 53.32 L142.29 52.18 L143.35 51.08 L144.41 50 L145.47 48.96 L146.53 47.96 L147.58 46.98 L148.64 46.04 L149.7 45.12 L150.76 44.24 L151.82 43.38 L152.88 42.55 L153.94 41.75 L155 40.98 L156.06 40.23 L157.12 39.51 L158.18 38.81 L159.24 38.13 L160.3 37.48 L161.36 36.85 L162.42 36.25 L163.48 35.66 L164.54 35.09 L165.6 34.55 L166.65 34.02 L167.71 33.51 L168.77 33.02 L169.83 32.55 L170.89 32.09 L171.95 31.65 L173.01 31.23 L174.07 30.82 L175.13 30.43 L176.19 30.05 L177.25 29.68 L178.31 29.33 L179.37 28.99 L180.43 28.67 L181.49 28.35 L182.55 28.05 L183.61 27.76 L184.67 27.48 L185.72 27.21 L186.78 26.95 L187.84 26.7 L188.9 26.46 L189.96 26.23 L191.02 26.01 L192.08 25.8 L193.14 25.59 L194.2 25.39 L195.26 25.2 L196.32 25.02 L197.38 24.85 L198.44 24.68 L199.5 24.51 L200.56 24.36 L201.62 24.21 L202.68 24.07 L203.73 23.93 L204.79 23.8 L205.85 23.67 L206.91 23.54 L207.97 23.43 L209.03 23.31 L210.09 23.21 L211.15 23.1 L212.21 23 L213.27 22.9 L214.33 22.81 L215.39 22.72 L216.45 22.64 L217.51 22.56 L218.57 22.48 L219.63 22.4 L220.69 22.33 L221.75 22.26 L222.8 22.19 L223.86 22.13 L224.92 22.07 L225.98 22.01 L227.04 21.95 L228.1 21.9 L229.16 21.84 L230.22 21.79 L231.28 21.75 L232.34 21.7 L233.4 21.65 L234.46 21.61 L235.52 21.57 L236.58 21.53 L237.64 21.49 L238.7 21.46 L239.76 21.42 L240.82 21.39 L241.87 21.36 L242.93 21.33 L243.99 21.3 L245.05 21.27 L246.11 21.24 L247.17 21.21 L248.23 21.19 L249.29 21.16 L250.35 21.14" fill="none" stroke="#ff00ff" stroke-width="0.98" stroke-linejoin="round"/>
</g>
<rect x="66.5" y="20.5" width="185.6" height="218.25" fill="none" stroke="#2e2e2e" stroke-width="1.05" stroke-linejoin="round"/>
<path d="M127.65 238.75 v-3 M127.65 20.5 v3" stroke="#222" stroke-width="0.65"/>
<path d="M189 238.75 v-3 M189 20.5 v3" stroke="#222" stroke-width="0.65"/>
<path d="M250.35 238.75 v-3 M250.35 20.5 v3" stroke="#222" stroke-width="0.65"/>
<path d="M66.5 129.62 h3 M252.1 129.62 h-3" stroke="#222" stroke-width="0.65"/>
<text x="64.08" y="262.6" font-family='"Liberation Sans", sans-serif' font-size="17.7">0</text>
<text x="115.24" y="262.6" font-family='"Liberation Sans", sans-serif' font-size="17.7">3</text>
<text x="125.08" y="262.6" font-family='"Liberation Sans", sans-serif' font-size="17.7">0</text>
<text x="134.92" y="262.6" font-family='"Liberation Sans", sans-serif' font-size="17.7">0</text>
<text x="176.44" y="262.6" font-family='"Liberation Sans", sans-serif' font-size="17.7">6</text>
<text x="186.28" y="262.6" font-family='"Liberation Sans", sans-serif' font-size="17.7">0</text>
<text x="196.12" y="262.6" font-family='"Liberation Sans", sans-serif' font-size="17.7">0</text>
<text x="237.44" y="262.6" font-family='"Liberation Sans", sans-serif' font-size="17.7">9</text>
<text x="247.28" y="262.6" font-family='"Liberation Sans", sans-serif' font-size="17.7">0</text>
<text x="257.12" y="262.6" font-family='"Liberation Sans", sans-serif' font-size="17.7">0</text>
<path d="M52.35 26.8 L50.8 26.8 L50.8 16.89 Q50.24 17.42 49.32 17.96 Q48.41 18.49 47.69 18.76 L47.69 17.26 Q48.99 16.64 49.97 15.77 Q50.94 14.9 51.35 14.08 L52.35 14.08 Z" fill="#000"/>
<text x="31" y="135.9" font-family='"Liberation Sans", sans-serif' font-size="17.7">0</text>
<text x="40.84" y="135.9" font-family='"Liberation Sans", sans-serif' font-size="17.7">.</text>
<text x="45.76" y="135.9" font-family='"Liberation Sans", sans-serif' font-size="17.7">5</text>
<text x="45.76" y="244.9" font-family='"Liberation Sans", sans-serif' font-size="17.7">0</text>
<text x="158.5" y="287.6" font-family='"Liberation Serif", serif' font-size="16" font-style="italic" text-anchor="middle">t</text>
<text x="86.6" y="12.6" font-family='"Liberation Serif", serif' font-size="15.7" text-anchor="middle">(a)</text>
<g transform="translate(15.2 158) rotate(-90)" font-family='"Liberation Serif", serif'>
<g fill="none" stroke="#000" stroke-width="0.9" stroke-linecap="round">
<ellipse cx="0" cy="0" rx="3.3" ry="3.12" transform="translate(4.56 -3.35) skewX(-15)"/>
<line x1="6.46" y1="-10.38" x2="2.84" y2="3.02" stroke-width="0.77"/>
</g>
<line x1="-0.8" y1="-13.4" x2="9" y2="-13.4" stroke="#000" stroke-width="0.9"/>
<text x="9.8" y="3.4" font-size="11.5" font-style="italic">J</text>
<text x="18.4" y="0" font-size="15">,</text>
<g fill="none" stroke="#000" stroke-width="0.9" stroke-linecap="round">
<ellipse cx="0" cy="0" rx="3.3" ry="3.12" transform="translate(26.36 -3.35) skewX(-15)"/>
<line x1="28.26" y1="-10.38" x2="24.64" y2="3.02" stroke-width="0.77"/>
</g>
<line x1="21" y1="-13.4" x2="30.8" y2="-13.4" stroke="#000" stroke-width="0.9"/>
<text x="31.4" y="3.4" font-size="12" textLength="23.8" lengthAdjust="spacingAndGlyphs">tank</text>
</g>
<g font-family='"Liberation Serif", serif'>
<g font-family='"Liberation Serif", serif'>
<text x="156.2" y="114.1" font-size="15.7" font-style="italic" textLength="9.11" lengthAdjust="spacingAndGlyphs">S</text>
<g fill="none" stroke="#000" stroke-width="0.85" stroke-linecap="round">
<ellipse cx="0" cy="0" rx="2.04" ry="1.99" transform="translate(168.19 113.2) skewX(-15)"/>
<line x1="169.44" y1="108.58" x2="167.06" y2="117.38" stroke-width="0.72"/>
</g>
<text x="172.6" y="115.4" font-size="9.6">,</text>
<text x="175.3" y="115.4" font-size="9.6">2</text>
</g>
<text x="149.8" y="136.9" font-size="14.5">0.01</text>
<line x1="184" y1="132.3" x2="229.5" y2="132.3" stroke="#000000" stroke-width="0.9"/>
<text x="149.8" y="154.4" font-size="14.5">0.09</text>
<line x1="184" y1="149.8" x2="229.5" y2="149.8" stroke="#0000ff" stroke-width="0.9"/>
<text x="149.8" y="171.9" font-size="14.5">0.17</text>
<line x1="184" y1="167.3" x2="229.5" y2="167.3" stroke="#228b22" stroke-width="0.9"/>
<text x="149.8" y="189.4" font-size="14.5">0.25</text>
<line x1="184" y1="184.8" x2="229.5" y2="184.8" stroke="#ffa500" stroke-width="0.9"/>
<text x="149.8" y="206.9" font-size="14.5">0.33</text>
<line x1="184" y1="202.3" x2="229.5" y2="202.3" stroke="#ff0000" stroke-width="0.9"/>
<text x="149.8" y="224.4" font-size="14.5">0.41</text>
<line x1="184" y1="219.8" x2="229.5" y2="219.8" stroke="#ff00ff" stroke-width="0.9"/>
</g>
</g>
<g id="pb">
<polyline points="349.2,123 390.8,137.2 433,128.2 474.9,106.7 516.7,81.4 558.6,58.8" fill="none" stroke="#444444" stroke-width="0.65"/>
<circle cx="349.2" cy="123" r="3.25" fill="#000000"/>
<circle cx="390.8" cy="137.2" r="3.25" fill="#000000"/>
<circle cx="433" cy="128.2" r="3.25" fill="#000000"/>
<circle cx="474.9" cy="106.7" r="3.25" fill="#000000"/>
<circle cx="516.7" cy="81.4" r="3.25" fill="#000000"/>
<circle cx="558.6" cy="58.8" r="3.25" fill="#000000"/>
<polyline points="349.2,143.3 390.8,149.8 433,144.8 474.9,117.7 516.7,91.1 558.6,56.9" fill="none" stroke="#5050ff" stroke-width="0.65"/>
<circle cx="349.2" cy="143.3" r="3.25" fill="#0000ff"/>
<circle cx="390.8" cy="149.8" r="3.25" fill="#0000ff"/>
<circle cx="433" cy="144.8" r="3.25" fill="#0000ff"/>
<circle cx="474.9" cy="117.7" r="3.25" fill="#0000ff"/>
<circle cx="516.7" cy="91.1" r="3.25" fill="#0000ff"/>
<circle cx="558.6" cy="56.9" r="3.25" fill="#0000ff"/>
<polyline points="349.2,169 390.8,169.8 433,159.9 474.9,129.8 516.7,97.1 558.6,59.3" fill="none" stroke="#4aa04a" stroke-width="0.65"/>
<circle cx="349.2" cy="169" r="3.25" fill="#228b22"/>
<circle cx="390.8" cy="169.8" r="3.25" fill="#228b22"/>
<circle cx="433" cy="159.9" r="3.25" fill="#228b22"/>
<circle cx="474.9" cy="129.8" r="3.25" fill="#228b22"/>
<circle cx="516.7" cy="97.1" r="3.25" fill="#228b22"/>
<circle cx="558.6" cy="59.3" r="3.25" fill="#228b22"/>
<polyline points="349.2,184.9 390.8,186.6 433,168.1 474.9,141.3 516.7,106.7 558.6,61.7" fill="none" stroke="#ffb52e" stroke-width="0.65"/>
<circle cx="349.2" cy="184.9" r="3.25" fill="#ffa500"/>
<circle cx="390.8" cy="186.6" r="3.25" fill="#ffa500"/>
<circle cx="433" cy="168.1" r="3.25" fill="#ffa500"/>
<circle cx="474.9" cy="141.3" r="3.25" fill="#ffa500"/>
<circle cx="516.7" cy="106.7" r="3.25" fill="#ffa500"/>
<circle cx="558.6" cy="61.7" r="3.25" fill="#ffa500"/>
<polyline points="349.2,199.6 390.8,202 433,180.2 474.9,156.5 516.7,114.8 558.6,65.3" fill="none" stroke="#ff4040" stroke-width="0.65"/>
<circle cx="349.2" cy="199.6" r="3.25" fill="#ff0000"/>
<circle cx="390.8" cy="202" r="3.25" fill="#ff0000"/>
<circle cx="433" cy="180.2" r="3.25" fill="#ff0000"/>
<circle cx="474.9" cy="156.5" r="3.25" fill="#ff0000"/>
<circle cx="516.7" cy="114.8" r="3.25" fill="#ff0000"/>
<circle cx="558.6" cy="65.3" r="3.25" fill="#ff0000"/>
<polyline points="349.2,233.9 390.8,214.8 433,205.7 474.9,173.5 516.7,126.9 558.6,79.8" fill="none" stroke="#ff40ff" stroke-width="0.65"/>
<circle cx="349.2" cy="233.9" r="3.25" fill="#ff00ff"/>
<circle cx="390.8" cy="214.8" r="3.25" fill="#ff00ff"/>
<circle cx="433" cy="205.7" r="3.25" fill="#ff00ff"/>
<circle cx="474.9" cy="173.5" r="3.25" fill="#ff00ff"/>
<circle cx="516.7" cy="126.9" r="3.25" fill="#ff00ff"/>
<circle cx="558.6" cy="79.8" r="3.25" fill="#ff00ff"/>
<rect x="343.7" y="20.5" width="220.3" height="218.4" fill="none" stroke="#2e2e2e" stroke-width="1.05" stroke-linejoin="round"/>
<path d="M396.18 238.9 v-3 M396.18 20.5 v3" stroke="#222" stroke-width="0.65"/>
<path d="M448.61 238.9 v-3 M448.61 20.5 v3" stroke="#222" stroke-width="0.65"/>
<path d="M501.04 238.9 v-3 M501.04 20.5 v3" stroke="#222" stroke-width="0.65"/>
<path d="M553.47 238.9 v-3 M553.47 20.5 v3" stroke="#222" stroke-width="0.65"/>
<path d="M343.7 95.9 h3 M564 95.9 h-3" stroke="#222" stroke-width="0.65"/>
<path d="M343.7 172 h3 M564 172 h-3" stroke="#222" stroke-width="0.65"/>
<text x="341.48" y="262.6" font-family='"Liberation Sans", sans-serif' font-size="17.7">0</text>
<text x="385.5" y="262.6" font-family='"Liberation Sans", sans-serif' font-size="17.7">0</text>
<text x="395.34" y="262.6" font-family='"Liberation Sans", sans-serif' font-size="17.7">.</text>
<path d="M406.85 262.6 L405.3 262.6 L405.3 252.69 Q404.74 253.22 403.83 253.76 Q402.91 254.29 402.19 254.56 L402.19 253.06 Q403.49 252.44 404.47 251.57 Q405.45 250.7 405.85 249.88 L406.85 249.88 Z" fill="#000"/>
<text x="438.5" y="262.6" font-family='"Liberation Sans", sans-serif' font-size="17.7">0</text>
<text x="448.34" y="262.6" font-family='"Liberation Sans", sans-serif' font-size="17.7">.</text>
<text x="453.26" y="262.6" font-family='"Liberation Sans", sans-serif' font-size="17.7">2</text>
<text x="490.9" y="262.6" font-family='"Liberation Sans", sans-serif' font-size="17.7">0</text>
<text x="500.74" y="262.6" font-family='"Liberation Sans", sans-serif' font-size="17.7">.</text>
<text x="505.66" y="262.6" font-family='"Liberation Sans", sans-serif' font-size="17.7">3</text>
<text x="543.3" y="262.6" font-family='"Liberation Sans", sans-serif' font-size="17.7">0</text>
<text x="553.14" y="262.6" font-family='"Liberation Sans", sans-serif' font-size="17.7">.</text>
<text x="558.06" y="262.6" font-family='"Liberation Sans", sans-serif' font-size="17.7">4</text>
<path d="M329.35 26.1 L327.8 26.1 L327.8 16.19 Q327.24 16.72 326.32 17.26 Q325.41 17.79 324.69 18.06 L324.69 16.56 Q325.99 15.94 326.97 15.07 Q327.94 14.2 328.35 13.38 L329.35 13.38 Z" fill="#000"/>
<text x="308" y="102.2" font-family='"Liberation Sans", sans-serif' font-size="17.7">0</text>
<text x="317.84" y="102.2" font-family='"Liberation Sans", sans-serif' font-size="17.7">.</text>
<text x="322.76" y="102.2" font-family='"Liberation Sans", sans-serif' font-size="17.7">8</text>
<text x="308" y="178.3" font-family='"Liberation Sans", sans-serif' font-size="17.7">0</text>
<text x="317.84" y="178.3" font-family='"Liberation Sans", sans-serif' font-size="17.7">.</text>
<text x="322.76" y="178.3" font-family='"Liberation Sans", sans-serif' font-size="17.7">6</text>
<text x="367" y="12.8" font-family='"Liberation Serif", serif' font-size="15.7" text-anchor="middle">(b)</text>
<g font-family='"Liberation Serif", serif'>
<text x="438.8" y="285.5" font-size="17.7" font-style="italic" textLength="10.27" lengthAdjust="spacingAndGlyphs">S</text>
<g fill="none" stroke="#000" stroke-width="0.85" stroke-linecap="round">
<ellipse cx="0" cy="0" rx="2.32" ry="2.24" transform="translate(451.73 284.85) skewX(-15)"/>
<line x1="453.12" y1="279.7" x2="450.48" y2="289.5" stroke-width="0.72"/>
</g>
<text x="455.5" y="287.3" font-size="11.5">,</text>
<text x="459.2" y="287.3" font-size="11.5">2</text>
</g>
<g transform="translate(284.2 149.2) rotate(-90)" font-family='"Liberation Serif", serif'>
<g fill="none" stroke="#000" stroke-linecap="round" stroke-linejoin="round">
<path d="M3.4 -0.7 Q3.0 -5 3.3 -10.6" stroke-width="1.3"/>
<path d="M3.3 -10.6 Q1.6 -11.4 0.7 -9.4" stroke-width="0.85"/>
<path d="M3.3 -10.7 C6 -11.6 10.6 -11.3 10.5 -8.2 C10.4 -5.6 8 -4.5 5.4 -4.6" stroke-width="0.95"/>
<path d="M6.2 -4.5 Q8.2 -3 9.0 -0.6 Q9.8 1.3 12.2 0.4" stroke-width="1.2"/>
</g>
<line x1="0.4" y1="-13.9" x2="13.6" y2="-13.9" stroke="#000" stroke-width="0.85"/>
<text x="13.6" y="2.4" font-size="12.5" textLength="19.6" lengthAdjust="spacingAndGlyphs">min</text>
</g>
<clipPath id="ci"><rect x="369.6" y="25.05" width="78.2" height="55.8"/></clipPath>
<g clip-path="url(#ci)">
<polyline points="371.7,70.9 386.2,62.4 400.7,52.4 415.9,43 430.9,39 445.4,31.2" fill="none" stroke="#000000" stroke-width="0.65"/>
<rect x="370.7" y="69.9" width="2" height="2" fill="#000000"/>
<rect x="385.2" y="61.4" width="2" height="2" fill="#000000"/>
<rect x="399.7" y="51.4" width="2" height="2" fill="#000000"/>
<rect x="414.9" y="42" width="2" height="2" fill="#000000"/>
<rect x="429.9" y="38" width="2" height="2" fill="#000000"/>
<rect x="444.4" y="30.2" width="2" height="2" fill="#000000"/>
<polyline points="371.7,47.9 386.2,55.7 400.7,48.6 415.9,41.7 430.9,30.7 445.4,27.1" fill="none" stroke="#0000ff" stroke-width="0.65"/>
<rect x="370.7" y="46.9" width="2" height="2" fill="#0000ff"/>
<rect x="385.2" y="54.7" width="2" height="2" fill="#0000ff"/>
<rect x="399.7" y="47.6" width="2" height="2" fill="#0000ff"/>
<rect x="414.9" y="40.7" width="2" height="2" fill="#0000ff"/>
<rect x="429.9" y="29.7" width="2" height="2" fill="#0000ff"/>
<rect x="444.4" y="26.1" width="2" height="2" fill="#0000ff"/>
<polyline points="371.7,39 386.2,57.5 400.7,49 415.9,42.3 430.9,38.3 445.4,27.8" fill="none" stroke="#228b22" stroke-width="0.65"/>
<rect x="370.7" y="38" width="2" height="2" fill="#228b22"/>
<rect x="385.2" y="56.5" width="2" height="2" fill="#228b22"/>
<rect x="399.7" y="48" width="2" height="2" fill="#228b22"/>
<rect x="414.9" y="41.3" width="2" height="2" fill="#228b22"/>
<rect x="429.9" y="37.3" width="2" height="2" fill="#228b22"/>
<rect x="444.4" y="26.8" width="2" height="2" fill="#228b22"/>
<polyline points="371.7,21.2 386.2,53.5 400.7,45.7 415.9,41.2 430.9,37.4 445.4,33" fill="none" stroke="#ffa500" stroke-width="0.65"/>
<rect x="370.7" y="20.2" width="2" height="2" fill="#ffa500"/>
<rect x="385.2" y="52.5" width="2" height="2" fill="#ffa500"/>
<rect x="399.7" y="44.7" width="2" height="2" fill="#ffa500"/>
<rect x="414.9" y="40.2" width="2" height="2" fill="#ffa500"/>
<rect x="429.9" y="36.4" width="2" height="2" fill="#ffa500"/>
<rect x="444.4" y="32" width="2" height="2" fill="#ffa500"/>
<polyline points="371.7,27.8 386.2,51.3 400.7,45.7 415.9,40.5 430.9,36.1 445.4,32.3" fill="none" stroke="#ff0000" stroke-width="0.65"/>
<rect x="370.7" y="26.8" width="2" height="2" fill="#ff0000"/>
<rect x="385.2" y="50.3" width="2" height="2" fill="#ff0000"/>
<rect x="399.7" y="44.7" width="2" height="2" fill="#ff0000"/>
<rect x="414.9" y="39.5" width="2" height="2" fill="#ff0000"/>
<rect x="429.9" y="35.1" width="2" height="2" fill="#ff0000"/>
<rect x="444.4" y="31.3" width="2" height="2" fill="#ff0000"/>
<polyline points="371.7,37.4 386.2,49 400.7,45.2 415.9,39 430.9,36.1 445.4,33.8" fill="none" stroke="#ff00ff" stroke-width="0.65"/>
<rect x="370.7" y="36.4" width="2" height="2" fill="#ff00ff"/>
<rect x="385.2" y="48" width="2" height="2" fill="#ff00ff"/>
<rect x="399.7" y="44.2" width="2" height="2" fill="#ff00ff"/>
<rect x="414.9" y="38" width="2" height="2" fill="#ff00ff"/>
<rect x="429.9" y="35.1" width="2" height="2" fill="#ff00ff"/>
<rect x="444.4" y="32.8" width="2" height="2" fill="#ff00ff"/>
<polyline points="371.7,73.6 386.2,66.8 400.7,60 415.9,53.5 430.9,48 445.4,44.1" fill="none" stroke="#000000" stroke-width="0.55" stroke-dasharray="2.6 0.8"/>
<rect x="370.7" y="72.6" width="2" height="2" fill="#000000"/>
<rect x="385.2" y="65.8" width="2" height="2" fill="#000000"/>
<rect x="399.7" y="59" width="2" height="2" fill="#000000"/>
<rect x="414.9" y="52.5" width="2" height="2" fill="#000000"/>
<rect x="429.9" y="47" width="2" height="2" fill="#000000"/>
<rect x="444.4" y="43.1" width="2" height="2" fill="#000000"/>
<polyline points="371.7,76.9 386.2,69.6 400.7,62.4 415.9,54.6 430.9,47.9 445.4,40.5" fill="none" stroke="#0000ff" stroke-width="0.55" stroke-dasharray="2.6 0.8"/>
<rect x="370.7" y="75.9" width="2" height="2" fill="#0000ff"/>
<rect x="385.2" y="68.6" width="2" height="2" fill="#0000ff"/>
<rect x="399.7" y="61.4" width="2" height="2" fill="#0000ff"/>
<rect x="414.9" y="53.6" width="2" height="2" fill="#0000ff"/>
<rect x="429.9" y="46.9" width="2" height="2" fill="#0000ff"/>
<rect x="444.4" y="39.5" width="2" height="2" fill="#0000ff"/>
<polyline points="371.7,76 386.2,68.8 400.7,61.5 415.9,54 430.9,47.3 445.4,41" fill="none" stroke="#228b22" stroke-width="0.55" stroke-dasharray="2.6 0.8"/>
<rect x="370.7" y="75" width="2" height="2" fill="#228b22"/>
<rect x="385.2" y="67.8" width="2" height="2" fill="#228b22"/>
<rect x="399.7" y="60.5" width="2" height="2" fill="#228b22"/>
<rect x="414.9" y="53" width="2" height="2" fill="#228b22"/>
<rect x="429.9" y="46.3" width="2" height="2" fill="#228b22"/>
<rect x="444.4" y="40" width="2" height="2" fill="#228b22"/>
<polyline points="371.7,74.6 386.2,67.5 400.7,60 415.9,52.8 430.9,46.5 445.4,41.3" fill="none" stroke="#ffa500" stroke-width="0.55" stroke-dasharray="2.6 0.8"/>
<rect x="370.7" y="73.6" width="2" height="2" fill="#ffa500"/>
<rect x="385.2" y="66.5" width="2" height="2" fill="#ffa500"/>
<rect x="399.7" y="59" width="2" height="2" fill="#ffa500"/>
<rect x="414.9" y="51.8" width="2" height="2" fill="#ffa500"/>
<rect x="429.9" y="45.5" width="2" height="2" fill="#ffa500"/>
<rect x="444.4" y="40.3" width="2" height="2" fill="#ffa500"/>
<polyline points="371.7,73 386.2,65.8 400.7,58.5 415.9,51.5 430.9,45.6 445.4,40.3" fill="none" stroke="#ff0000" stroke-width="0.55" stroke-dasharray="2.6 0.8"/>
<rect x="370.7" y="72" width="2" height="2" fill="#ff0000"/>
<rect x="385.2" y="64.8" width="2" height="2" fill="#ff0000"/>
<rect x="399.7" y="57.5" width="2" height="2" fill="#ff0000"/>
<rect x="414.9" y="50.5" width="2" height="2" fill="#ff0000"/>
<rect x="429.9" y="44.6" width="2" height="2" fill="#ff0000"/>
<rect x="444.4" y="39.3" width="2" height="2" fill="#ff0000"/>
<polyline points="371.7,70.2 386.2,62.9 400.7,55.7 415.9,49 430.9,44.1 445.4,39.7" fill="none" stroke="#ff00ff" stroke-width="0.55" stroke-dasharray="2.6 0.8"/>
<rect x="370.7" y="69.2" width="2" height="2" fill="#ff00ff"/>
<rect x="385.2" y="61.9" width="2" height="2" fill="#ff00ff"/>
<rect x="399.7" y="54.7" width="2" height="2" fill="#ff00ff"/>
<rect x="414.9" y="48" width="2" height="2" fill="#ff00ff"/>
<rect x="429.9" y="43.1" width="2" height="2" fill="#ff00ff"/>
<rect x="444.4" y="38.7" width="2" height="2" fill="#ff00ff"/>
</g>
<rect x="369.6" y="25.05" width="78.2" height="55.8" fill="none" stroke="#333" stroke-width="1.1"/>
<path d="M369.9 80.85 v-2.6 M369.9 25.05 v2.6" stroke="#222" stroke-width="0.75"/>
<text transform="translate(368.93 101) scale(1 1.13)" font-family='"Liberation Sans", sans-serif' font-size="6.0" stroke="#000" stroke-width="0.18">0</text>
<path d="M388.4 80.85 v-2.6 M388.4 25.05 v2.6" stroke="#222" stroke-width="0.75"/>
<text transform="translate(384.78 101) scale(1 1.13)" font-family='"Liberation Sans", sans-serif' font-size="6.0" stroke="#000" stroke-width="0.18">0</text>
<text transform="translate(388.12 101) scale(1 1.13)" font-family='"Liberation Sans", sans-serif' font-size="6.0" stroke="#000" stroke-width="0.18">.</text>
<path d="M392.02 101 L391.49 101 L391.49 97.2 Q391.3 97.41 390.99 97.61 Q390.68 97.82 390.44 97.92 L390.44 97.35 Q390.88 97.11 391.21 96.78 Q391.54 96.44 391.68 96.13 L392.02 96.13 Z" fill="#000" stroke="#000" stroke-width="0.18"/>
<path d="M406.9 80.85 v-2.6 M406.9 25.05 v2.6" stroke="#222" stroke-width="0.75"/>
<text transform="translate(403.13 101) scale(1 1.13)" font-family='"Liberation Sans", sans-serif' font-size="6.0" stroke="#000" stroke-width="0.18">0</text>
<text transform="translate(406.47 101) scale(1 1.13)" font-family='"Liberation Sans", sans-serif' font-size="6.0" stroke="#000" stroke-width="0.18">.</text>
<text transform="translate(408.13 101) scale(1 1.13)" font-family='"Liberation Sans", sans-serif' font-size="6.0" stroke="#000" stroke-width="0.18">2</text>
<path d="M425.4 80.85 v-2.6 M425.4 25.05 v2.6" stroke="#222" stroke-width="0.75"/>
<text transform="translate(421.48 101) scale(1 1.13)" font-family='"Liberation Sans", sans-serif' font-size="6.0" stroke="#000" stroke-width="0.18">0</text>
<text transform="translate(424.82 101) scale(1 1.13)" font-family='"Liberation Sans", sans-serif' font-size="6.0" stroke="#000" stroke-width="0.18">.</text>
<text transform="translate(426.48 101) scale(1 1.13)" font-family='"Liberation Sans", sans-serif' font-size="6.0" stroke="#000" stroke-width="0.18">3</text>
<path d="M443.9 80.85 v-2.6 M443.9 25.05 v2.6" stroke="#222" stroke-width="0.75"/>
<text transform="translate(439.83 101) scale(1 1.13)" font-family='"Liberation Sans", sans-serif' font-size="6.0" stroke="#000" stroke-width="0.18">0</text>
<text transform="translate(443.17 101) scale(1 1.13)" font-family='"Liberation Sans", sans-serif' font-size="6.0" stroke="#000" stroke-width="0.18">.</text>
<text transform="translate(444.83 101) scale(1 1.13)" font-family='"Liberation Sans", sans-serif' font-size="6.0" stroke="#000" stroke-width="0.18">4</text>
<path d="M369.6 28.5 h2.6 M447.8 28.5 h-2.6" stroke="#222" stroke-width="0.75"/>
<text transform="translate(355.69 30.8) scale(1 1.13)" font-family='"Liberation Sans", sans-serif' font-size="6.0" stroke="#000" stroke-width="0.18">2</text>
<text transform="translate(359.03 30.8) scale(1 1.13)" font-family='"Liberation Sans", sans-serif' font-size="6.0" stroke="#000" stroke-width="0.18">0</text>
<text transform="translate(362.36 30.8) scale(1 1.13)" font-family='"Liberation Sans", sans-serif' font-size="6.0" stroke="#000" stroke-width="0.18">0</text>
<path d="M369.6 45.9 h2.6 M447.8 45.9 h-2.6" stroke="#222" stroke-width="0.75"/>
<path d="M357.93 48.2 L357.4 48.2 L357.4 44.4 Q357.21 44.61 356.9 44.81 Q356.59 45.02 356.35 45.12 L356.35 44.55 Q356.79 44.31 357.12 43.98 Q357.45 43.64 357.59 43.33 L357.93 43.33 Z" fill="#000" stroke="#000" stroke-width="0.18"/>
<text transform="translate(359.03 48.2) scale(1 1.13)" font-family='"Liberation Sans", sans-serif' font-size="6.0" stroke="#000" stroke-width="0.18">5</text>
<text transform="translate(362.36 48.2) scale(1 1.13)" font-family='"Liberation Sans", sans-serif' font-size="6.0" stroke="#000" stroke-width="0.18">0</text>
<path d="M369.6 63.5 h2.6 M447.8 63.5 h-2.6" stroke="#222" stroke-width="0.75"/>
<path d="M357.93 65.8 L357.4 65.8 L357.4 62 Q357.21 62.21 356.9 62.41 Q356.59 62.62 356.35 62.72 L356.35 62.15 Q356.79 61.91 357.12 61.58 Q357.45 61.24 357.59 60.93 L357.93 60.93 Z" fill="#000" stroke="#000" stroke-width="0.18"/>
<text transform="translate(359.03 65.8) scale(1 1.13)" font-family='"Liberation Sans", sans-serif' font-size="6.0" stroke="#000" stroke-width="0.18">0</text>
<text transform="translate(362.36 65.8) scale(1 1.13)" font-family='"Liberation Sans", sans-serif' font-size="6.0" stroke="#000" stroke-width="0.18">0</text>
<path d="M369.6 81 h2.6 M447.8 81 h-2.6" stroke="#222" stroke-width="0.75"/>
<text transform="translate(359.03 83.3) scale(1 1.13)" font-family='"Liberation Sans", sans-serif' font-size="6.0" stroke="#000" stroke-width="0.18">5</text>
<text transform="translate(362.36 83.3) scale(1 1.13)" font-family='"Liberation Sans", sans-serif' font-size="6.0" stroke="#000" stroke-width="0.18">0</text>
<text x="427" y="69.2" font-family='"Liberation Serif", serif' font-size="15" text-anchor="middle">(c)</text>
<g font-family='"Liberation Serif", serif'>
<text x="395.3" y="119.8" font-size="16.8" font-style="italic" textLength="9.74" lengthAdjust="spacingAndGlyphs">S</text>
<g fill="none" stroke="#000" stroke-width="0.85" stroke-linecap="round">
<ellipse cx="0" cy="0" rx="2.49" ry="2.39" transform="translate(407.84 119.3) skewX(-15)"/>
<line x1="409.31" y1="113.84" x2="406.5" y2="124.24" stroke-width="0.72"/>
</g>
<text x="411.9" y="121.9" font-size="11.8">,</text>
<text x="414.9" y="121.9" font-size="11.8">2</text>
</g>
<g transform="translate(460.6 38.5) rotate(90)" font-family='"Liberation Serif", serif'>
<text x="-0.6" y="0" font-size="17" font-style="italic">τ</text>
<polygon points="11.4,-12 12.11,-9.97 14.25,-9.93 12.54,-8.63 13.16,-6.57 11.4,-7.8 9.64,-6.57 10.26,-8.63 8.55,-9.93 10.69,-9.97" fill="#000"/>
<text x="6.4" y="4.4" font-size="13.5" font-style="italic">R</text>
<text x="15.2" y="4.4" font-size="12">,</text>
<text x="20.8" y="4.4" font-size="11.5">Φ</text>
</g>
</g>
<g id="pd">
<polyline points="639.1,232.2 675,233 711.2,233.2 747.2,233.2 783.2,233.2 819.2,233.2" fill="none" stroke="#d4d4d4" stroke-width="2.6"/>
<polyline points="639.1,231.1 675,231.9 711.2,232 747.2,232 783.2,232 819.2,232" fill="none" stroke="#8c8c8c" stroke-width="1.2"/>
<polyline points="639.1,231.1 675,231.9 711.2,232 747.2,232 783.2,232 819.2,232" fill="none" stroke="#111" stroke-width="0.8" stroke-dasharray="2.6 0.9" stroke-dashoffset="0"/>
<polyline points="639.1,233.3 675,234 711.2,234.3 747.2,234.4 783.2,234.4 819.2,234.4" fill="none" stroke="#8c8c8c" stroke-width="1.2"/>
<polyline points="639.1,233.3 675,234 711.2,234.3 747.2,234.4 783.2,234.4 819.2,234.4" fill="none" stroke="#111" stroke-width="0.8" stroke-dasharray="2.6 0.9" stroke-dashoffset="1.6"/>
<rect x="637.1" y="228.9" width="4" height="6.2" rx="0.6" fill="#000"/>
<rect x="673" y="230.2" width="4" height="5.6" rx="0.6" fill="#000"/>
<rect x="709.2" y="230.2" width="4" height="5.6" rx="0.6" fill="#000"/>
<rect x="745.2" y="230.2" width="4" height="5.6" rx="0.6" fill="#000"/>
<rect x="781.2" y="230.2" width="4" height="5.6" rx="0.6" fill="#000"/>
<rect x="817.2" y="230.2" width="4" height="5.6" rx="0.6" fill="#000"/>
<polyline points="639.1,190.4 675,208 711.2,218.4 747.2,224.8 783.2,228.5 819.2,232.3" fill="none" stroke="#444444" stroke-width="0.65"/>
<circle cx="639.1" cy="190.4" r="3.2" fill="#000000"/>
<circle cx="675" cy="208" r="3.2" fill="#000000"/>
<circle cx="711.2" cy="218.4" r="3.2" fill="#000000"/>
<circle cx="747.2" cy="224.8" r="3.2" fill="#000000"/>
<circle cx="783.2" cy="228.5" r="3.2" fill="#000000"/>
<circle cx="819.2" cy="232.3" r="3.2" fill="#000000"/>
<polyline points="639.1,178.8 675,201.9 711.2,214.9 747.2,223 783.2,227.8 819.2,232" fill="none" stroke="#5050ff" stroke-width="0.65"/>
<circle cx="639.1" cy="178.8" r="3.2" fill="#0000ff"/>
<circle cx="675" cy="201.9" r="3.2" fill="#0000ff"/>
<circle cx="711.2" cy="214.9" r="3.2" fill="#0000ff"/>
<circle cx="747.2" cy="223" r="3.2" fill="#0000ff"/>
<circle cx="783.2" cy="227.8" r="3.2" fill="#0000ff"/>
<circle cx="819.2" cy="232" r="3.2" fill="#0000ff"/>
<polyline points="639.1,163.8 675,193.5 711.2,212.1 747.2,221.6 783.2,227.3 819.2,231.7" fill="none" stroke="#4aa04a" stroke-width="0.65"/>
<circle cx="639.1" cy="163.8" r="3.2" fill="#228b22"/>
<circle cx="675" cy="193.5" r="3.2" fill="#228b22"/>
<circle cx="711.2" cy="212.1" r="3.2" fill="#228b22"/>
<circle cx="747.2" cy="221.6" r="3.2" fill="#228b22"/>
<circle cx="783.2" cy="227.3" r="3.2" fill="#228b22"/>
<circle cx="819.2" cy="231.7" r="3.2" fill="#228b22"/>
<polyline points="639.1,147.7 675,187.8 711.2,209.2 747.2,220.2 783.2,226.8 819.2,231.4" fill="none" stroke="#ffb52e" stroke-width="0.65"/>
<circle cx="639.1" cy="147.7" r="3.2" fill="#ffa500"/>
<circle cx="675" cy="187.8" r="3.2" fill="#ffa500"/>
<circle cx="711.2" cy="209.2" r="3.2" fill="#ffa500"/>
<circle cx="747.2" cy="220.2" r="3.2" fill="#ffa500"/>
<circle cx="783.2" cy="226.8" r="3.2" fill="#ffa500"/>
<circle cx="819.2" cy="231.4" r="3.2" fill="#ffa500"/>
<polyline points="639.1,125.1 675,173.3 711.2,202.2 747.2,217 783.2,225.1 819.2,230.9" fill="none" stroke="#ff4040" stroke-width="0.65"/>
<circle cx="639.1" cy="125.1" r="3.2" fill="#ff0000"/>
<circle cx="675" cy="173.3" r="3.2" fill="#ff0000"/>
<circle cx="711.2" cy="202.2" r="3.2" fill="#ff0000"/>
<circle cx="747.2" cy="217" r="3.2" fill="#ff0000"/>
<circle cx="783.2" cy="225.1" r="3.2" fill="#ff0000"/>
<circle cx="819.2" cy="230.9" r="3.2" fill="#ff0000"/>
<polyline points="639.1,59.9 675,146.2 711.2,188.1 747.2,211.5 783.2,222.5 819.2,229.7" fill="none" stroke="#ff40ff" stroke-width="0.65"/>
<circle cx="639.1" cy="59.9" r="3.2" fill="#ff00ff"/>
<circle cx="675" cy="146.2" r="3.2" fill="#ff00ff"/>
<circle cx="711.2" cy="188.1" r="3.2" fill="#ff00ff"/>
<circle cx="747.2" cy="211.5" r="3.2" fill="#ff00ff"/>
<circle cx="783.2" cy="222.5" r="3.2" fill="#ff00ff"/>
<circle cx="819.2" cy="229.7" r="3.2" fill="#ff00ff"/>
<rect x="634.5" y="20.5" width="188.9" height="218.4" fill="none" stroke="#2e2e2e" stroke-width="1.05" stroke-linejoin="round"/>
<path d="M679.06 238.9 v-3 M679.06 20.5 v3" stroke="#222" stroke-width="0.65"/>
<path d="M724.42 238.9 v-3 M724.42 20.5 v3" stroke="#222" stroke-width="0.65"/>
<path d="M769.78 238.9 v-3 M769.78 20.5 v3" stroke="#222" stroke-width="0.65"/>
<path d="M815.14 238.9 v-3 M815.14 20.5 v3" stroke="#222" stroke-width="0.65"/>
<path d="M634.5 27.51 h3 M823.4 27.51 h-3" stroke="#222" stroke-width="0.65"/>
<text x="614.16" y="33.81" font-family='"Liberation Sans", sans-serif' font-size="17.7">8</text>
<path d="M634.5 125.1 h3 M823.4 125.1 h-3" stroke="#222" stroke-width="0.65"/>
<text x="614.16" y="131.4" font-family='"Liberation Sans", sans-serif' font-size="17.7">5</text>
<path d="M634.5 222.69 h3 M823.4 222.69 h-3" stroke="#222" stroke-width="0.65"/>
<text x="614.16" y="228.99" font-family='"Liberation Sans", sans-serif' font-size="17.7">2</text>
<text x="631.88" y="262.6" font-family='"Liberation Sans", sans-serif' font-size="17.7">0</text>
<text x="669.7" y="262.6" font-family='"Liberation Sans", sans-serif' font-size="17.7">0</text>
<text x="679.54" y="262.6" font-family='"Liberation Sans", sans-serif' font-size="17.7">.</text>
<path d="M691.05 262.6 L689.5 262.6 L689.5 252.69 Q688.94 253.22 688.03 253.76 Q687.11 254.29 686.39 254.56 L686.39 253.06 Q687.69 252.44 688.67 251.57 Q689.65 250.7 690.05 249.88 L691.05 249.88 Z" fill="#000"/>
<text x="716.1" y="262.6" font-family='"Liberation Sans", sans-serif' font-size="17.7">0</text>
<text x="725.94" y="262.6" font-family='"Liberation Sans", sans-serif' font-size="17.7">.</text>
<text x="730.86" y="262.6" font-family='"Liberation Sans", sans-serif' font-size="17.7">2</text>
<text x="761" y="262.6" font-family='"Liberation Sans", sans-serif' font-size="17.7">0</text>
<text x="770.84" y="262.6" font-family='"Liberation Sans", sans-serif' font-size="17.7">.</text>
<text x="775.76" y="262.6" font-family='"Liberation Sans", sans-serif' font-size="17.7">3</text>
<text x="805.9" y="262.6" font-family='"Liberation Sans", sans-serif' font-size="17.7">0</text>
<text x="815.74" y="262.6" font-family='"Liberation Sans", sans-serif' font-size="17.7">.</text>
<text x="820.66" y="262.6" font-family='"Liberation Sans", sans-serif' font-size="17.7">4</text>
<text x="654.8" y="12.6" font-family='"Liberation Serif", serif' font-size="15.2" text-anchor="middle">(d)</text>
<g font-family='"Liberation Serif", serif'>
<text x="716.2" y="285.7" font-size="17.7" font-style="italic" textLength="10.27" lengthAdjust="spacingAndGlyphs">S</text>
<g fill="none" stroke="#000" stroke-width="0.85" stroke-linecap="round">
<ellipse cx="0" cy="0" rx="2.32" ry="2.24" transform="translate(729.13 285.05) skewX(-15)"/>
<line x1="730.52" y1="279.9" x2="727.88" y2="289.7" stroke-width="0.72"/>
</g>
<text x="732.9" y="287.5" font-size="11.5">,</text>
<text x="736.6" y="287.5" font-size="11.5">2</text>
</g>
<g transform="translate(597.4 138.3) rotate(-90)" font-family='"Liberation Serif", serif'>
<g fill="none" stroke="#000" stroke-linecap="round" stroke-linejoin="round">
<path d="M1.0 -0.4 Q1.7 0.3 2.3 -0.9 L5.8 -11.2" stroke-width="0.95"/>
<path d="M5.8 -11.2 L10.4 -0.8" stroke-width="1.25"/>
<path d="M10.4 -0.8 Q12.3 -8.8 15.8 -12.9" stroke-width="0.95"/>
</g>
<line x1="1.0" y1="-13.5" x2="16.2" y2="-13.5" stroke="#000" stroke-width="0.9"/>
</g>
<g font-family='"Liberation Serif", serif'>
</g>
<g font-family='"Liberation Serif", serif'>
<text x="756.4" y="52.1" font-size="15.2" font-style="italic" textLength="11.2" lengthAdjust="spacingAndGlyphs">D</text>
<g fill="none" stroke="#000" stroke-width="0.85" stroke-linecap="round">
<ellipse cx="0" cy="0" rx="2.04" ry="1.99" transform="translate(770.89 51.2) skewX(-15)"/>
<line x1="772.14" y1="46.58" x2="769.76" y2="55.38" stroke-width="0.72"/>
</g>
</g>
<g font-family='"Liberation Serif", serif'>
<text x="751.5" y="73.2" font-size="14.3">0.001</text>
<circle cx="813.1" cy="68.4" r="3.2" fill="#000000"/>
<text x="751.5" y="90.75" font-size="14.3">0.01</text>
<circle cx="813.1" cy="85.95" r="3.2" fill="#0000ff"/>
<text x="751.5" y="108.3" font-size="14.3">0.02</text>
<circle cx="813.1" cy="103.5" r="3.2" fill="#228b22"/>
<text x="751.5" y="125.85" font-size="14.3">0.03</text>
<circle cx="813.1" cy="121.05" r="3.2" fill="#ffa500"/>
<text x="751.5" y="143.4" font-size="14.3">0.05</text>
<circle cx="813.1" cy="138.6" r="3.2" fill="#ff0000"/>
<text x="751.5" y="160.95" font-size="14.3">0.1</text>
<circle cx="813.1" cy="156.15" r="3.2" fill="#ff00ff"/>
</g>
</g>
</svg>
</body></html>
